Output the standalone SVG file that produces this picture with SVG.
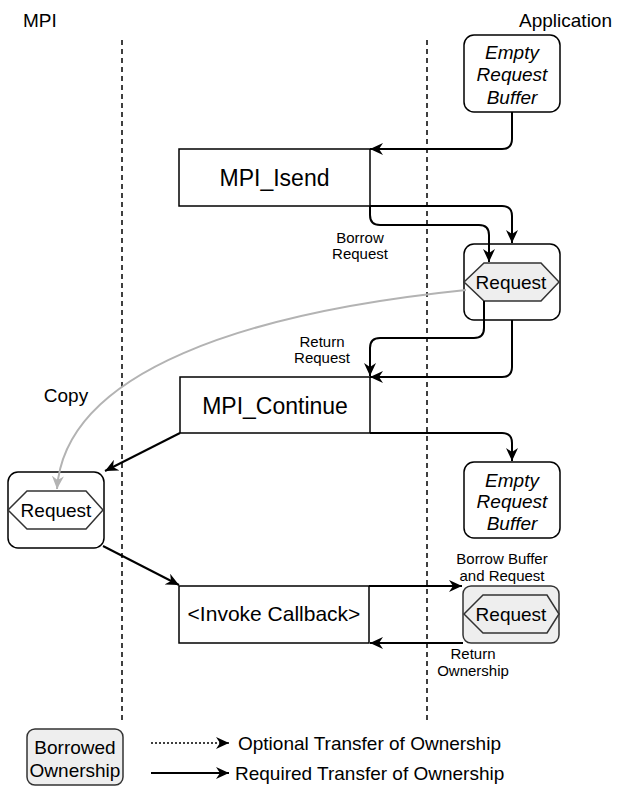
<svg xmlns="http://www.w3.org/2000/svg" width="624" height="787" viewBox="0 0 624 787">
<style>
text{font-family:"Liberation Sans",Arial,sans-serif;fill:#000}
.big{font-size:21px}
.big2{font-size:23px}
.mid{font-size:19px}
.sm{font-size:15px}
.it{font-style:italic}
.box{fill:#fff;stroke:#000;stroke-width:1.5}
.rbox{fill:#fff;stroke:#000;stroke-width:1.5}
.gbox{fill:#eeeeee;stroke:#333;stroke-width:1.5}
.hex{stroke:#333;stroke-width:1.5}
.c{fill:none;stroke:#000;stroke-width:2}
.dash{fill:none;stroke:#000;stroke-width:1.5;stroke-dasharray:5 4}
</style>
<defs>
<marker id="a" markerUnits="userSpaceOnUse" markerWidth="14" markerHeight="12" refX="13" refY="6" orient="auto">
<path d="M0,0 L13,6 L0,12 L4,6 z" fill="#000"/>
</marker>
<marker id="g" markerUnits="userSpaceOnUse" markerWidth="14" markerHeight="12" refX="13" refY="6" orient="auto">
<path d="M0,0 L13,6 L0,12 L4,6 z" fill="#b3b3b3"/>
</marker>
</defs>

<g id="headers">
<text x="23" y="27" class="mid">MPI</text>
<text x="612" y="27" class="mid" text-anchor="end">Application</text>
</g>

<g id="lanes">
<line x1="122" y1="40" x2="122" y2="720" class="dash"/>
<line x1="427" y1="40" x2="427" y2="720" class="dash"/>
</g>

<g id="empty-buffer-1">
<rect x="464" y="35" width="96" height="77" rx="10" class="rbox"/>
<text x="512" y="59" class="mid it" text-anchor="middle">Empty</text>
<text x="512" y="81" class="mid it" text-anchor="middle">Request</text>
<text x="512" y="104" class="mid it" text-anchor="middle">Buffer</text>
</g>

<g id="mpi-isend">
<rect x="179" y="149" width="191" height="57" class="box"/>
<text x="274.5" y="186" class="big2" text-anchor="middle">MPI_Isend</text>
</g>

<g id="request-app">
<rect x="464" y="244" width="96" height="76" rx="10" class="rbox"/>
<polygon points="464,282 484,263 541,263 559,282 541,301 484,301" class="hex" fill="#eeeeee"/>
<text x="511" y="289" class="mid" text-anchor="middle">Request</text>
</g>

<g id="mpi-continue">
<rect x="180" y="377" width="190" height="56" class="box"/>
<text x="275" y="414" class="big2" text-anchor="middle">MPI_Continue</text>
</g>

<g id="request-mpi">
<rect x="8" y="472" width="96" height="76" rx="10" class="rbox"/>
<polygon points="8,510 27,491 86,491 103,510 86,529 27,529" class="hex" fill="#fff"/>
<text x="56" y="517" class="mid" text-anchor="middle">Request</text>
</g>

<g id="empty-buffer-2">
<rect x="464" y="462" width="96" height="76" rx="10" class="rbox"/>
<text x="512" y="487" class="mid it" text-anchor="middle">Empty</text>
<text x="512" y="508" class="mid it" text-anchor="middle">Request</text>
<text x="512" y="530" class="mid it" text-anchor="middle">Buffer</text>
</g>

<g id="invoke-callback">
<rect x="179" y="586" width="190" height="57" class="box"/>
<text x="274" y="621" class="big" text-anchor="middle">&lt;Invoke Callback&gt;</text>
</g>

<g id="request-borrowed">
<rect x="463" y="586" width="96" height="57" rx="8" class="gbox"/>
<polygon points="464,614 483,595 547,595 559,614 547,633 483,633" class="hex" fill="#eeeeee"/>
<text x="511" y="621" class="mid" text-anchor="middle">Request</text>
</g>

<g id="connectors">
<path d="M512,112 V139 Q512,149 502,149 H370" class="c" marker-end="url(#a)"/>
<path d="M370,206 V215 Q370,225 380,225 H479 Q489,225 489,235 V262" class="c" marker-end="url(#a)"/>
<path d="M370,206 H502 Q512,206 512,216 V243" class="c" marker-end="url(#a)"/>
<path d="M484,301 V328 Q484,338 474,338 H380 Q370,338 370,348 V376" class="c" marker-end="url(#a)"/>
<path d="M512,320 V367 Q512,377 502,377 H370" class="c" marker-end="url(#a)"/>
<path d="M180,433 L105,471" class="c" marker-end="url(#a)"/>
<path d="M370,433 H502 Q512,433 512,443 V461" class="c" marker-end="url(#a)"/>
<path d="M103,546 L179,585" class="c" marker-end="url(#a)"/>
<path d="M369,586 H462" class="c" marker-end="url(#a)"/>
<path d="M463,643 H370" class="c" marker-end="url(#a)"/>
<path d="M466,290 C250,312 65,370 57,489" fill="none" stroke="#b3b3b3" stroke-width="2" marker-end="url(#g)"/>
</g>

<g id="labels">
<text x="360" y="243" class="sm" text-anchor="middle">Borrow</text>
<text x="360" y="259" class="sm" text-anchor="middle">Request</text>
<text x="322" y="347" class="sm" text-anchor="middle">Return</text>
<text x="322" y="363" class="sm" text-anchor="middle">Request</text>
<text x="66" y="402" class="mid" text-anchor="middle">Copy</text>
<text x="502" y="564" class="sm" text-anchor="middle">Borrow Buffer</text>
<text x="502" y="581" class="sm" text-anchor="middle">and Request</text>
<text x="473" y="659" class="sm" text-anchor="middle">Return</text>
<text x="473" y="676" class="sm" text-anchor="middle">Ownership</text>
</g>

<g id="legend">
<rect x="27" y="729" width="96" height="56" rx="8" class="gbox"/>
<text x="75" y="754" class="mid" text-anchor="middle">Borrowed</text>
<text x="75" y="777" class="mid" text-anchor="middle">Ownership</text>
<path d="M151,743 H229" fill="none" stroke="#000" stroke-width="1.5" stroke-dasharray="2 2" marker-end="url(#a)"/>
<path d="M151,773 H229" class="c" marker-end="url(#a)"/>
<text x="238" y="750" class="mid">Optional Transfer of Ownership</text>
<text x="235" y="780" class="mid">Required Transfer of Ownership</text>
</g>
</svg>
